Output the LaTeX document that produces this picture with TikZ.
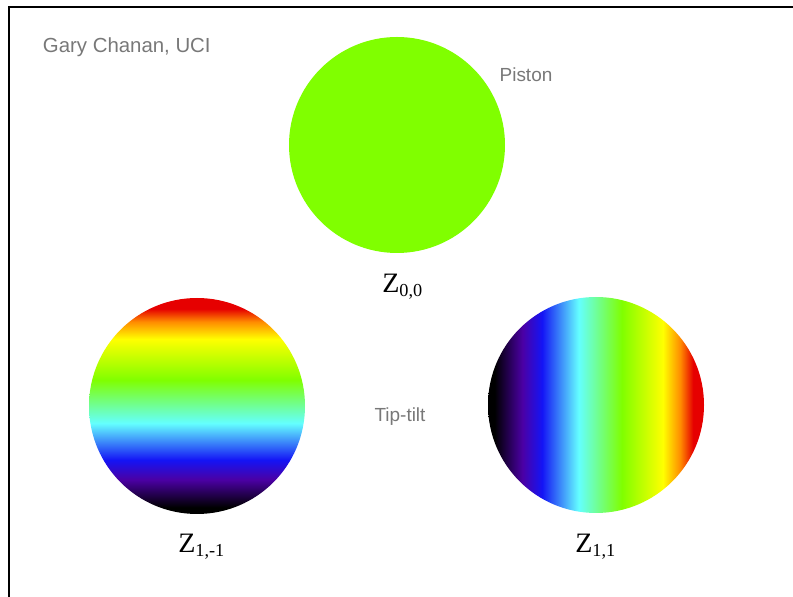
\documentclass[tikz,border=0pt]{standalone}
\usepackage{fontspec}
\setmainfont{Liberation Serif}
\setsansfont{Liberation Sans}
\usepackage{xcolor}
\definecolor{verdel}{RGB}{128,255,0}
\definecolor{roxo}{RGB}{75,0,165}
\definecolor{azulz}{RGB}{20,20,245}
\definecolor{ciano}{RGB}{100,255,255}
\definecolor{amarelo}{RGB}{255,255,0}
\definecolor{laranja}{RGB}{255,140,0}
\definecolor{vermelho}{RGB}{230,0,0}
\definecolor{cinza}{RGB}{120,120,120}
\usepackage{tikz}
\usetikzlibrary{positioning}

% tilt colour maps (path box = 25bp..75bp)
\pgfdeclareverticalshading{tiltv}{100bp}{color(0bp)=(black); color(25bp)=(black);
  color(26.5bp)=(black); color(33bp)=(roxo); color(37.5bp)=(azulz);
  color(46bp)=(ciano); color(56bp)=(verdel); color(65.5bp)=(amarelo);
  color(69.5bp)=(laranja); color(72.5bp)=(vermelho); color(100bp)=(vermelho)}
\pgfdeclarehorizontalshading{tilth}{100bp}{color(0bp)=(black); color(25bp)=(black);
  color(26.5bp)=(black); color(33bp)=(roxo); color(37.5bp)=(azulz);
  color(46bp)=(ciano); color(56bp)=(verdel); color(65.5bp)=(amarelo);
  color(69.5bp)=(laranja); color(72.5bp)=(vermelho); color(100bp)=(vermelho)}

\newcommand{\zern}[1]{Z\raisebox{-0.3ex}{\fontsize{13}{13}\selectfont #1}}

\begin{document}
\begin{tikzpicture}[
    disc/.style={circle, minimum size=5.4cm, inner sep=0pt},
    lbl/.style={font=\sffamily\fontsize{13.5}{15}\selectfont, text=cinza},
    zlbl/.style={font=\fontsize{20}{22}\selectfont, anchor=base west, inner sep=0pt},
    frame/.style={black, line width=1.3pt}
  ]
  \useasboundingbox (0,0) rectangle (19.825,14.925);

  \coordinate (fa) at (0.225,0);
  \coordinate (fb) at (0.225,14.75);
  \coordinate (fc) at (19.825,14.75);
  \draw[frame] (fa) -- (fb) -- (fc);

  \node[lbl, anchor=west, font=\sffamily\fontsize{14.5}{16}\selectfont] (autor) at (0.95, 13.75) {Gary Chanan, UCI};

  \node[disc, fill=verdel] (pist) at (9.925, 11.3) {};
  \node[lbl] (pistlbl) at (13.15, 13.05) {Piston};
  \node[zlbl] (z00) at (9.55, 7.6) {\zern{0,0}};

  \node[disc, shading=tiltv] (tiltv) at (4.925, 4.775) {};
  \node[disc, shading=tilth] (tilth) at (14.9, 4.8) {};
  \node[lbl] (tiplbl) at (10.0, 4.5) {Tip-tilt};
  \node[zlbl] (z1m) at (4.45, 1.1) {\zern{1,-1}};
  \node[zlbl] (z1p) at (14.375, 1.1) {\zern{1,1}};

\end{tikzpicture}
\end{document}
